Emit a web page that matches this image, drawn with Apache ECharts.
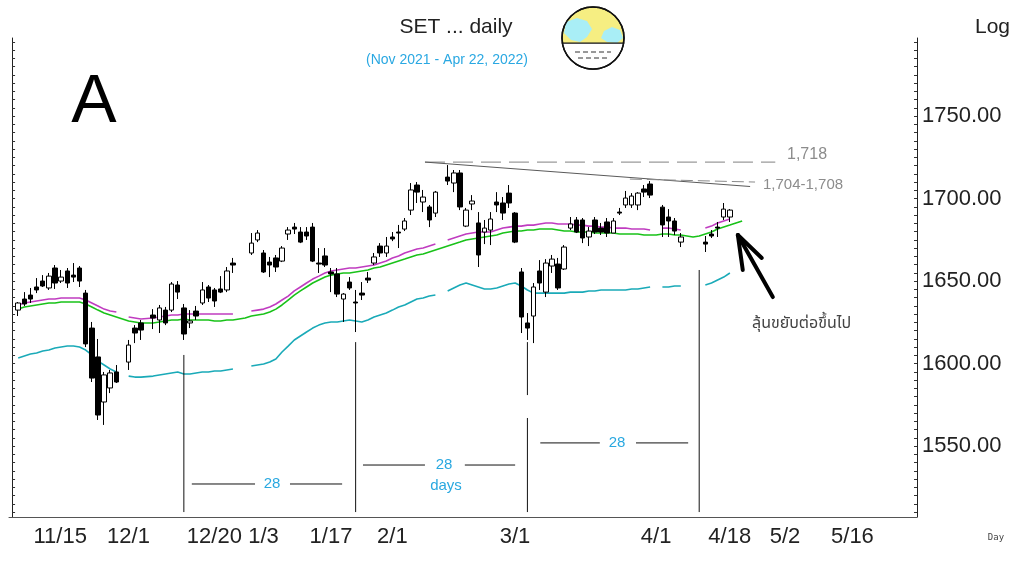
<!DOCTYPE html>
<html>
<head>
<meta charset="utf-8">
<title>SET daily</title>
<script src="https://cdn.jsdelivr.net/npm/echarts@6/dist/echarts.min.js"></script>
<style>
html, body { margin: 0; padding: 0; background: #fff; }
#chart { width: 1024px; height: 576px; }
</style>
</head>
<body>
<div id="chart"></div>
<script>
// one slot per weekday, Nov 10 2021 .. Jun 3 2022 (holidays stay empty)
var categories = [];
(function () {
	var d = new Date(2021, 10, 10);
	while (categories.length < 148) {
		var w = d.getDay();
		if (w !== 0 && w !== 6) categories.push((d.getMonth() + 1) + '/' + d.getDate());
		d.setDate(d.getDate() + 1);
	}
})();

var tickDates = ['11/15', '12/1', '12/20', '1/3', '1/17', '2/1', '3/1', '4/1', '4/18', '5/2', '5/16'];
var priceLabels = [1550, 1600, 1650, 1700, 1750];

// [open, close, low, high], null = no trading
var candles = [
	null, [1632.5, 1636.8, 1628.9, 1637.4], [1639.2, 1636.2, 1635.0, 1643.4], [1641.6, 1639.2, 1636.8, 1645.9],
	[1646.5, 1644.7, 1642.8, 1651.9], [1650.1, 1647.1, 1646.5, 1653.7], [1645.9, 1653.1, 1644.7, 1655.0],
	[1658.0, 1648.9, 1645.3, 1659.8], [1650.1, 1652.5, 1648.9, 1656.8], [1656.2, 1648.9, 1645.9, 1658.0],
	[1653.7, 1652.5, 1649.5, 1661.0], [1658.0, 1650.1, 1646.5, 1659.2], [1642.8, 1612.0, 1610.1, 1644.7],
	[1621.6, 1591.3, 1588.9, 1625.3], [1604.1, 1568.9, 1565.9, 1615.0], [1576.8, 1593.2, 1562.9, 1595.0],
	[1585.3, 1594.4, 1582.2, 1596.2], [1595.0, 1588.9, 1588.3, 1599.2], null,
	[1601.0, 1611.3, 1596.2, 1614.4], [1621.6, 1618.6, 1612.5, 1623.4], [1624.7, 1620.4, 1614.4, 1626.5], null,
	[1629.5, 1627.7, 1621.0, 1633.1], [1626.5, 1633.8, 1618.6, 1635.6], [1632.5, 1624.7, 1623.4, 1634.4],
	[1632.5, 1648.3, 1631.3, 1649.5], [1647.7, 1643.4, 1639.2, 1650.1], [1633.8, 1618.0, 1614.4, 1636.2],
	[1624.7, 1625.9, 1621.6, 1632.5], [1631.9, 1628.9, 1626.5, 1635.0], [1636.8, 1644.7, 1635.6, 1649.5],
	[1646.5, 1639.8, 1637.4, 1647.7], [1644.7, 1638.0, 1634.4, 1645.9], [1645.3, 1643.4, 1642.8, 1653.1],
	[1644.7, 1656.2, 1643.4, 1658.6], [1661.0, 1659.8, 1655.0, 1664.1], null, null,
	[1667.1, 1673.1, 1665.9, 1679.2], [1675.0, 1679.2, 1673.7, 1681.0], [1667.1, 1655.6, 1655.0, 1668.9],
	[1661.6, 1659.8, 1652.5, 1664.7], [1664.1, 1658.6, 1655.6, 1665.9], [1662.2, 1670.1, 1661.6, 1671.3],
	[1678.6, 1681.0, 1675.0, 1682.8], [1682.8, 1681.6, 1678.6, 1685.3], [1679.8, 1673.7, 1673.1, 1682.8],
	[1679.8, 1677.4, 1675.0, 1682.8], [1682.8, 1662.2, 1661.6, 1685.3], [1661.0, 1660.4, 1655.0, 1670.1],
	[1665.3, 1659.8, 1658.6, 1670.1], [1655.6, 1654.4, 1643.4, 1658.0], [1654.4, 1642.2, 1640.4, 1658.0],
	[1639.2, 1642.2, 1625.3, 1642.8], [1649.5, 1645.9, 1644.7, 1652.5], [1637.4, 1636.8, 1619.2, 1644.7],
	[1642.8, 1641.6, 1638.6, 1649.5], [1651.9, 1650.7, 1648.9, 1655.6], [1661.0, 1664.7, 1659.8, 1667.1],
	[1671.3, 1667.1, 1664.7, 1673.1], [1667.1, 1671.3, 1664.7, 1676.8], [1676.8, 1675.6, 1674.3, 1679.8],
	[1679.8, 1679.2, 1670.1, 1684.1], [1681.6, 1686.5, 1680.4, 1688.3], [1693.1, 1705.3, 1690.1, 1709.5],
	[1708.3, 1704.0, 1697.4, 1710.1], [1698.0, 1701.0, 1691.9, 1705.3], [1695.0, 1687.1, 1682.8, 1696.2],
	[1691.3, 1704.0, 1688.9, 1704.7], null,
	[1713.1, 1710.7, 1708.3, 1720.4], [1709.5, 1715.6, 1704.0, 1717.4], [1715.6, 1695.0, 1693.1, 1717.4],
	[1683.4, 1693.1, 1682.8, 1694.4], [1696.8, 1698.6, 1693.1, 1702.2], [1685.3, 1665.9, 1658.6, 1691.9],
	[1679.8, 1682.2, 1672.5, 1687.1], [1681.0, 1687.7, 1671.9, 1691.9], [1698.0, 1696.2, 1691.9, 1704.0],
	[1697.4, 1691.3, 1687.1, 1701.0], [1703.4, 1697.4, 1694.4, 1708.3], [1691.3, 1673.7, 1673.1, 1691.9],
	[1655.6, 1628.3, 1618.6, 1658.0], [1624.7, 1621.6, 1614.4, 1630.7], [1628.9, 1646.5, 1612.5, 1648.9],
	[1656.2, 1648.9, 1644.7, 1662.8], [1643.4, 1661.0, 1640.4, 1663.4], [1659.2, 1663.4, 1655.0, 1665.9],
	[1660.4, 1645.9, 1644.7, 1664.1], [1657.4, 1670.7, 1656.8, 1671.9], [1682.2, 1684.7, 1681.0, 1688.9],
	[1687.1, 1679.8, 1679.2, 1688.9], [1687.1, 1676.2, 1673.1, 1688.3], [1676.8, 1680.4, 1671.3, 1682.8],
	[1687.1, 1679.8, 1678.6, 1688.9], [1682.2, 1679.8, 1678.0, 1685.3], [1685.9, 1679.2, 1676.8, 1688.3],
	[1679.2, 1686.5, 1679.2, 1688.3], [1691.9, 1691.3, 1690.1, 1694.4], [1696.2, 1700.4, 1694.4, 1704.7],
	[1696.2, 1701.6, 1694.4, 1703.4], [1696.2, 1703.4, 1693.1, 1704.0], [1705.9, 1704.0, 1701.0, 1708.3],
	[1708.9, 1702.2, 1700.4, 1710.7], null,
	[1694.9, 1684.1, 1676.8, 1696.2], [1688.9, 1686.5, 1676.8, 1693.7], [1686.5, 1680.4, 1678.0, 1688.3],
	[1673.7, 1676.8, 1670.7, 1679.2], null, null, null,
	[1673.7, 1672.5, 1667.7, 1677.4], [1678.6, 1677.4, 1676.2, 1681.0], [1682.8, 1682.2, 1676.8, 1685.9],
	[1688.9, 1693.7, 1687.1, 1697.4], [1688.9, 1693.1, 1685.9, 1693.7]
];

var maUpper = [
	null, 1635.6, 1636.8, 1637.4, 1638.0, 1638.6, 1639.2, 1639.2, 1639.8, 1639.8,
	1639.8, 1639.8, 1638.6, 1636.8, 1635.0, 1633.1, 1631.9, 1631.3, null, 1628.3,
	1627.7, 1627.1, 1627.4, 1627.7, 1628.3, 1628.9, 1629.5, 1629.5, 1630.1, 1630.1,
	1630.1, 1630.1, 1630.1, 1630.1, 1630.1, 1630.1, 1630.1, null, null, 1631.9,
	1632.5, 1633.1, 1634.4, 1636.2, 1638.6, 1641.0, 1644.1, 1646.5, 1648.9, 1651.3,
	1653.1, 1655.0, 1656.2, 1656.8, 1657.4, 1658.0, 1658.0, 1658.6, 1659.2, 1659.8,
	1661.0, 1662.2, 1664.1, 1665.3, 1667.1, 1668.3, 1669.5, 1670.1, 1671.3, 1672.5,
	null, 1675.0, 1676.2, 1677.4, 1678.6, 1679.2, 1679.8, 1679.8, 1679.8, 1681.0,
	1682.2, 1682.8, 1683.4, 1683.4, 1684.0, 1684.0, 1684.7, 1685.3, 1685.3, 1684.7,
	1684.7, 1684.7, 1684.0, 1684.0, 1683.4, 1683.4, 1682.8, 1682.8, 1682.2, 1682.2,
	1682.2, 1681.6, 1681.6, 1681.6, 1681.0, null, 1682.2, 1682.2, 1681.6, 1681.0,
	null, null, null, 1682.2, 1683.4, 1685.3, 1686.5, 1687.7
];

var maMid = [
	null, 1633.1, 1634.4, 1635.0, 1635.6, 1636.2, 1636.8, 1636.8, 1637.4, 1637.4,
	1637.4, 1637.4, 1636.2, 1634.4, 1632.5, 1630.7, 1629.5, 1628.3, 1627.1, 1625.9,
	1625.3, 1624.7, 1624.7, 1624.7, 1625.3, 1625.9, 1626.5, 1626.5, 1627.1, 1626.5,
	1626.5, 1626.5, 1626.5, 1625.9, 1625.9, 1626.5, 1626.5, 1627.1, 1627.7, 1628.9,
	1629.5, 1630.1, 1631.3, 1633.1, 1635.6, 1638.6, 1641.6, 1644.1, 1646.5, 1648.9,
	1650.7, 1652.5, 1653.7, 1654.4, 1655.0, 1655.0, 1655.6, 1656.2, 1656.8, 1658.0,
	1658.6, 1659.8, 1661.0, 1662.2, 1663.4, 1664.7, 1665.9, 1666.5, 1667.7, 1668.9,
	1670.1, 1671.3, 1672.5, 1673.7, 1675.0, 1675.6, 1676.2, 1676.8, 1677.4, 1678.0,
	1679.2, 1679.8, 1680.4, 1680.4, 1681.0, 1681.0, 1681.6, 1681.6, 1681.6, 1681.0,
	1680.4, 1680.4, 1679.8, 1679.8, 1679.8, 1679.2, 1679.2, 1679.2, 1679.2, 1678.6,
	1678.6, 1678.6, 1678.6, 1678.0, 1678.0, 1678.0, 1678.6, 1678.6, 1678.0, 1678.0,
	1677.4, 1676.8, 1677.4, 1678.6, 1679.8, 1681.6, 1682.8, 1684.0, 1685.3, 1686.5
];

var maLower = [
	null, 1603.5, 1604.7, 1605.9, 1606.5, 1607.7, 1608.3, 1609.5, 1610.1, 1610.7,
	1610.7, 1610.1, 1608.3, 1605.3, 1601.6, 1599.2, 1596.8, 1595.0, null, 1592.5,
	1591.9, 1591.9, 1592.2, 1592.5, 1593.2, 1593.8, 1594.4, 1595.0, 1593.8, 1593.8,
	1594.4, 1595.0, 1595.0, 1595.6, 1595.6, 1596.2, 1596.8, null, null, 1598.6,
	1599.2, 1599.8, 1601.0, 1602.8, 1607.1, 1610.7, 1614.4, 1616.8, 1619.2, 1621.6,
	1623.4, 1624.7, 1625.3, 1625.3, 1625.9, 1626.5, 1625.9, 1625.3, 1626.5, 1628.3,
	1629.5, 1630.7, 1632.5, 1634.4, 1635.6, 1637.4, 1639.2, 1639.8, 1641.0, 1641.6,
	null, 1644.1, 1645.9, 1647.7, 1648.9, 1647.7, 1646.5, 1645.3, 1645.3, 1645.9,
	1647.1, 1648.3, 1648.9, 1647.1, 1644.7, 1642.8, 1642.8, 1642.8, 1642.8, 1642.8,
	1642.8, 1643.4, 1643.4, 1643.4, 1644.1, 1644.1, 1644.7, 1644.7, 1644.7, 1644.7,
	1644.7, 1645.3, 1645.3, 1645.9, 1646.5, null, 1646.5, 1646.5, 1647.1, 1647.1,
	null, null, null, 1647.7, 1648.9, 1650.7, 1652.5, 1655.0
];

// hand-drawn notes, [slot, price, slot, price]
var cycleLines = [[28, 1605.3, 28, 1510.1], [56, 1613.1, 56, 1510.1], [84, 1613.1, 84, 1581.0],
	[84, 1567.1, 84, 1510.1], [112, 1656.8, 112, 1510.1]];
var countLines = [[29.3, 1527.1, 39.6, 1527.1], [45.3, 1527.1, 53.8, 1527.1],
	[57.2, 1538.6, 67.3, 1538.6], [73.8, 1538.6, 82.0, 1538.6],
	[86.1, 1552.0, 95.8, 1552.0], [101.7, 1552.0, 110.2, 1552.0]];
var resistFlat = [67.3, 1722.2, 124.4, 1722.2];
var resistSlope = [67.3, 1722.2, 120.3, 1707.4];
var resistNear = [100.7, 1711.9, 121.1, 1710.1];
var arrowLines = [[124.0, 1640.4, 118.3, 1678.0], [118.3, 1678.0, 119.1, 1656.8], [118.3, 1678.0, 122.2, 1664.1]];

var minorTicks = [];
for (var t = 1510; t <= 1795; t += 5) minorTicks.push(t);

function blank(v) { return v == null ? '-' : v; }

function seg(s, style) {
	return {
		type: 'line', xAxisIndex: 1, yAxisIndex: 0, silent: true, symbol: 'none', z: 4,
		data: [[s[0], s[1]], [s[2], s[3]]], lineStyle: style
	};
}

function showTick(i, v) { return tickDates.indexOf(v) >= 0; }

var FONT = '"Liberation Sans", Arial, sans-serif';
var THAI = '"Noto Sans Thai", "Loma", "Garuda", "Tlwg Typo", "Noto Sans", "DejaVu Sans", sans-serif';

function txt(x, y, s, size, color, align, family) {
	return {
		type: 'text', x: x, y: y, z: 10,
		style: { text: s, font: size + 'px ' + (family || FONT), fill: color, align: align || 'left', verticalAlign: 'middle' }
	};
}

var series = [
	{ type: 'line', name: 'lower', data: maLower.map(blank), symbol: 'none', silent: true, z: 2,
		lineStyle: { color: '#1aaab8', width: 1.6 } },
	{ type: 'line', name: 'mid', data: maMid.map(blank), symbol: 'none', silent: true, connectNulls: true, z: 2,
		lineStyle: { color: '#19c219', width: 1.6 } },
	{ type: 'line', name: 'upper', data: maUpper.map(blank), symbol: 'none', silent: true, z: 2,
		lineStyle: { color: '#c03cc0', width: 1.6 } },
	{ type: 'candlestick', name: 'SET', data: candles.map(blank), barWidth: 5, z: 5,
		itemStyle: { color: '#fff', color0: '#000', borderColor: '#000', borderColor0: '#000', borderWidth: 1 } }
];
cycleLines.forEach(function (s) { series.push(seg(s, { color: '#111', width: 1 })); });
countLines.forEach(function (s) { series.push(seg(s, { color: '#111', width: 1 })); });
series.push(seg(resistFlat, { color: '#9a9a9a', width: 1.2, type: [20, 8] }));
series.push(seg(resistSlope, { color: '#5a5a5a', width: 1 }));
series.push(seg(resistNear, { color: '#8a8a8a', width: 1, type: [12, 5] }));
arrowLines.forEach(function (s) { series.push(seg(s, { color: '#000', width: 4, cap: 'round' })); });

// face-mask part of the little globe: lower cap of the circle
var maskPts = [];
for (var a = 0.165; a <= Math.PI - 0.165 + 1e-6; a += (Math.PI - 0.33) / 24) {
	maskPts.push([593 + 31 * Math.cos(a), 38 + 31 * Math.sin(a)]);
}

var globe = {
	type: 'group', z: 10,
	children: [
		{ type: 'circle', shape: { cx: 593, cy: 38, r: 31 }, style: { fill: '#f6ee82', stroke: '#111', lineWidth: 1.5 } },
		{ type: 'polygon', shape: { points: [[566, 22], [577, 18], [587, 21], [592, 29], [587, 37], [580, 42], [571, 40], [564, 33]] },
			style: { fill: '#a9eef6' } },
		{ type: 'polygon', shape: { points: [[604, 31], [612, 27], [620, 30], [623, 38], [617, 43], [607, 42], [601, 38]] },
			style: { fill: '#a9eef6' } },
		{ type: 'polygon', shape: { points: maskPts },
			style: { fill: '#fff', stroke: '#111', lineWidth: 1.2 } },
		{ type: 'line', shape: { x1: 575, y1: 52, x2: 611, y2: 52 }, style: { stroke: '#333', lineWidth: 1, lineDash: [5, 3] } },
		{ type: 'line', shape: { x1: 578, y1: 58, x2: 608, y2: 58 }, style: { stroke: '#333', lineWidth: 1, lineDash: [5, 3] } },
		{ type: 'circle', shape: { cx: 593, cy: 38, r: 31 }, style: { fill: 'none', stroke: '#111', lineWidth: 1.5 } }
	]
};

var option = {
	animation: false,
	backgroundColor: '#fff',
	grid: { left: 9, right: 107, top: 38, bottom: 59, containLabel: false },
	xAxis: [{
		type: 'category',
		data: categories,
		axisLine: { lineStyle: { color: '#555', width: 1 } },
		axisTick: { interval: showTick, alignWithLabel: true, length: 31, lineStyle: { color: '#666' } },
		axisLabel: { interval: showTick, align: 'left', margin: 9, padding: [0, 0, 0, 3],
			fontSize: 22, fontFamily: FONT, color: '#222' },
		splitLine: { show: false }
	}, {
		type: 'value', min: -0.5, max: 147.5, show: false
	}],
	yAxis: [{
		type: 'value', position: 'left', min: 1507.1, max: 1797.4, scale: true,
		axisLine: { show: true, lineStyle: { color: '#222' } },
		axisTick: { show: true, inside: true, length: 3, customValues: minorTicks, lineStyle: { color: '#333' } },
		axisLabel: { show: false },
		splitLine: { show: false }
	}, {
		type: 'value', position: 'right', min: 1507.1, max: 1797.4, scale: true,
		axisLine: { show: true, lineStyle: { color: '#222' } },
		axisTick: { show: true, inside: true, length: 3, customValues: minorTicks, lineStyle: { color: '#333' } },
		axisLabel: { customValues: priceLabels, margin: 5, fontSize: 22, fontFamily: FONT, color: '#222',
			formatter: function (v) { return v.toFixed(2); } },
		splitLine: { show: false }
	}],
	series: series,
	graphic: [
		txt(456, 27, 'SET ... daily', 21, '#222', 'center'),
		txt(447, 60, '(Nov 2021 - Apr 22, 2022)', 14, '#2aa8e2', 'center'),
		txt(94, 103, 'A', 68, '#000', 'center'),
		txt(975, 27, 'Log', 21, '#222'),
		txt(996, 538, 'Day', 9, '#444', 'center', '"DejaVu Sans Mono", monospace'),
		txt(787, 155, '1,718', 16, '#8c8c8c'),
		txt(763, 185, '1,704-1,708', 15, '#8c8c8c'),
		txt(752, 325, 'ลุ้นขยับต่อขึ้นไป', 16, '#444', 'left', THAI),
		txt(272, 484, '28', 15, '#29a8e0', 'center'),
		txt(444, 465, '28', 15, '#29a8e0', 'center'),
		txt(446, 486, 'days', 15, '#29a8e0', 'center'),
		txt(617, 443, '28', 15, '#29a8e0', 'center'),
		globe
	]
};

var setChart = echarts.init(document.getElementById('chart'));
setChart.setOption(option);
</script>
</body>
</html>
